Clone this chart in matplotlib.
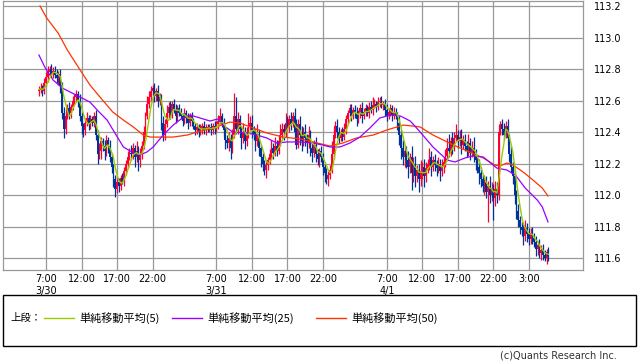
import numpy as np
import pandas as pd
import matplotlib
matplotlib.use('Agg')
import matplotlib.pyplot as plt
from matplotlib.lines import Line2D
from matplotlib.patches import Rectangle

# 15 minute USD/JPY candles, 3/30 6:00 -> 4/2 5:45 (JST), prices in pips above 111.00
# one row = 4 hours (16 bars)
closes = [
    [167, 168, 166, 171, 175, 178, 180, 177, 179, 176, 174, 177, 170, 152, 142, 150],
    [155, 152, 156, 160, 162, 164, 160, 150, 144, 141, 146, 149, 145, 148, 146, 150],
    [138, 126, 128, 134, 131, 128, 135, 131, 124, 118, 110, 104, 108, 106, 111, 109],
    [115, 120, 124, 127, 126, 130, 124, 128, 122, 126, 131, 140, 150, 158, 162, 166],
    [168, 163, 166, 160, 162, 146, 138, 145, 152, 156, 152, 158, 154, 150, 155, 152],
    [150, 147, 152, 149, 146, 150, 147, 144, 141, 143, 140, 142, 144, 141, 143, 142],
    [143, 141, 144, 142, 145, 147, 150, 146, 141, 135, 133, 136, 130, 138, 150, 142],
    [148, 142, 136, 140, 134, 138, 144, 146, 141, 138, 134, 139, 130, 124, 120, 116],
    [119, 122, 126, 130, 127, 131, 128, 134, 138, 142, 140, 146, 143, 148, 145, 150],
    [140, 132, 145, 138, 134, 140, 136, 133, 138, 130, 127, 132, 126, 123, 128, 124],
    [118, 114, 110, 113, 116, 126, 138, 144, 140, 136, 140, 137, 142, 148, 152, 155],
    [150, 154, 152, 148, 152, 155, 150, 153, 155, 152, 156, 154, 157, 158, 156, 159],
    [160, 157, 158, 154, 150, 153, 155, 151, 153, 150, 146, 138, 130, 124, 128, 122],
    [118, 124, 114, 120, 112, 116, 110, 115, 118, 112, 117, 120, 124, 118, 122, 119],
    [117, 120, 115, 118, 121, 125, 130, 128, 134, 131, 136, 138, 134, 137, 132, 135],
    [131, 128, 133, 127, 130, 125, 122, 118, 114, 110, 106, 108, 102, 106, 100, 104],
    [98, 104, 100, 140, 145, 142, 138, 144, 136, 126, 118, 112, 100, 90, 84, 80],
    [78, 74, 79, 75, 72, 76, 73, 70, 66, 68, 63, 65, 62, 60, 64, 61],
]
first_open = 166

# upper / lower shadow length in pips
wick_hi = [
    [2, 3, 2, 3, 3, 4, 2, 3, 2, 3, 4, 2, 3, 2, 4, 3],
    [3, 4, 2, 3, 2, 3, 2, 4, 3, 2, 3, 4, 2, 3, 2, 3],
    [4, 3, 5, 3, 2, 4, 3, 2, 4, 3, 2, 3, 4, 3, 2, 3],
    [3, 2, 4, 3, 5, 3, 2, 6, 3, 4, 3, 4, 3, 5, 4, 3],
    [2, 3, 2, 4, 3, 2, 4, 3, 5, 3, 4, 2, 3, 4, 2, 3],
    [3, 2, 3, 2, 3, 2, 3, 2, 2, 3, 2, 3, 2, 3, 2, 2],
    [2, 3, 2, 3, 2, 4, 5, 2, 3, 2, 3, 4, 3, 4, 15, 12],
    [5, 3, 2, 6, 3, 5, 8, 4, 5, 3, 4, 6, 3, 2, 3, 2],
    [3, 2, 3, 5, 3, 6, 4, 3, 7, 4, 3, 6, 4, 3, 5, 3],
    [5, 8, 3, 5, 6, 3, 5, 3, 6, 3, 4, 3, 5, 3, 2, 3],
    [3, 2, 3, 2, 3, 8, 5, 3, 4, 3, 2, 3, 4, 3, 2, 3],
    [3, 2, 3, 4, 2, 3, 4, 2, 3, 2, 3, 4, 5, 3, 2, 3],
    [2, 3, 2, 3, 4, 2, 3, 2, 3, 2, 3, 4, 3, 5, 4, 3],
    [6, 3, 7, 4, 5, 3, 4, 7, 3, 5, 4, 3, 6, 4, 3, 4],
    [3, 4, 3, 5, 3, 4, 6, 9, 3, 6, 4, 7, 3, 4, 5, 3],
    [4, 3, 6, 3, 4, 7, 4, 3, 5, 4, 3, 5, 4, 3, 6, 4],
    [3, 5, 4, 5, 2, 3, 4, 3, 4, 3, 5, 3, 4, 3, 4, 3],
    [3, 4, 5, 3, 4, 3, 4, 3, 4, 3, 4, 3, 4, 3, 2, 3],
]
wick_lo = [
    [3, 2, 3, 2, 2, 3, 2, 2, 3, 2, 3, 4, 5, 4, 6, 3],
    [2, 4, 3, 2, 3, 2, 4, 3, 5, 4, 3, 2, 4, 3, 2, 3],
    [3, 6, 3, 5, 3, 6, 3, 4, 3, 4, 5, 5, 3, 4, 3, 2],
    [3, 2, 3, 2, 4, 3, 6, 3, 7, 4, 3, 2, 3, 2, 3, 2],
    [3, 4, 3, 4, 3, 5, 4, 3, 2, 3, 4, 3, 2, 4, 3, 2],
    [2, 3, 2, 3, 4, 2, 3, 2, 3, 2, 3, 2, 3, 2, 3, 2],
    [2, 3, 2, 3, 2, 3, 2, 3, 4, 6, 3, 5, 7, 3, 2, 3],
    [3, 5, 7, 3, 5, 3, 2, 3, 5, 3, 6, 3, 5, 6, 5, 3],
    [5, 3, 2, 3, 4, 2, 3, 2, 3, 2, 5, 3, 2, 3, 4, 2],
    [5, 3, 2, 6, 6, 3, 5, 6, 3, 5, 6, 3, 5, 4, 5, 3],
    [5, 6, 3, 4, 3, 2, 3, 2, 4, 3, 2, 3, 2, 3, 2, 2],
    [3, 2, 3, 4, 2, 3, 4, 2, 3, 2, 3, 2, 3, 2, 3, 2],
    [3, 2, 3, 4, 3, 2, 3, 4, 3, 2, 5, 6, 7, 5, 6, 5],
    [7, 4, 11, 6, 7, 4, 8, 4, 5, 7, 4, 3, 4, 6, 3, 4],
    [5, 3, 6, 3, 4, 3, 2, 4, 3, 5, 3, 2, 4, 3, 6, 3],
    [3, 4, 3, 5, 3, 4, 6, 4, 7, 5, 4, 6, 4, 19, 5, 4],
    [14, 5, 5, 3, 2, 4, 3, 2, 4, 5, 4, 5, 6, 5, 4, 5],
    [4, 6, 3, 5, 4, 3, 4, 3, 5, 4, 3, 4, 3, 2, 4, 3],
]

# moving averages (hour since 3/30 0:00, price)
ma25_h = [6.0, 6.9, 8.0, 9.3, 10.4, 11.8, 13.2, 14.2, 15.6, 16.7, 17.9, 19.1, 20.2, 21.2,
          22.1, 23.5, 24.9, 26.2, 27.3, 28.7, 30.1, 31.2, 31.9, 33.3, 35.3, 36.7, 38.1,
          39.5, 40.9, 42.8, 44.6, 46.0, 47.0, 48.4, 49.8, 51.2, 52.6, 54.0, 55.5, 56.9,
          58.3, 59.7, 61.5, 63.5, 64.6, 66.0, 67.1, 68.6, 70.5, 71.9, 73.1, 74.5, 76.2,
          76.9, 77.7]
ma25_v = [112.889, 112.806, 112.730, 112.679, 112.654, 112.622, 112.590, 112.540, 112.476,
          112.394, 112.305, 112.273, 112.254, 112.273, 112.305, 112.381, 112.444, 112.489,
          112.508, 112.489, 112.470, 112.483, 112.444, 112.400, 112.394, 112.381, 112.362,
          112.330, 112.337, 112.337, 112.330, 112.317, 112.305, 112.305, 112.330, 112.368,
          112.425, 112.489, 112.508, 112.502, 112.470, 112.400, 112.305, 112.222, 112.210,
          112.235, 112.248, 112.241, 112.171, 112.159, 112.127, 112.044, 111.968, 111.924,
          111.829]
ma50_h = [6.15, 7.1, 8.7, 10.0, 11.8, 13.2, 14.6, 16.4, 17.9, 19.3, 20.7, 21.7, 24.9, 26.9,
          28.7, 30.5, 32.9, 34.3, 36.2, 38.1, 40.4, 42.8, 44.6, 47.0, 48.8, 50.7, 53.1,
          55.0, 57.3, 58.7, 59.7, 61.5, 63.5, 65.0, 66.7, 68.6, 70.2, 70.9, 71.9, 72.8,
          74.2, 75.6, 76.9, 77.7]
ma50_v = [113.200, 113.124, 113.029, 112.921, 112.794, 112.698, 112.622, 112.527, 112.476,
          112.432, 112.381, 112.368, 112.368, 112.381, 112.406, 112.425, 112.463, 112.457,
          112.425, 112.394, 112.368, 112.356, 112.337, 112.311, 112.330, 112.362, 112.381,
          112.413, 112.444, 112.438, 112.432, 112.381, 112.337, 112.305, 112.273, 112.235,
          112.190, 112.184, 112.203, 112.190, 112.146, 112.095, 112.044, 111.994]

tick_hours = [7, 12, 17, 22, 31, 36, 41, 46, 55, 60, 65, 70, 75]
tick_labels = ['7:00\n3/30', '12:00', '17:00', '22:00', '7:00\n3/31', '12:00', '17:00',
               '22:00', '7:00\n4/1', '12:00', '17:00', '22:00', '3:00']
y_ticks = [111.6, 111.8, 112.0, 112.2, 112.4, 112.6, 112.8, 113.0, 113.2]

# build OHLC frame
c = np.array(closes).ravel() / 100.0 + 111.0
o = np.concatenate([[first_open / 100.0 + 111.0], c[:-1]])
h = np.maximum(o, c) + np.array(wick_hi).ravel() / 100.0
l = np.minimum(o, c) - np.array(wick_lo).ravel() / 100.0
t = 6 + 0.25 * np.arange(len(c))
df = pd.DataFrame({'t': t, 'o': o, 'h': h, 'l': l, 'c': c})
df['ma5'] = df['c'].rolling(5, min_periods=1).mean()

plt.rcParams['font.family'] = ['DejaVu Sans']
fig = plt.figure(figsize=(6.38, 3.62), dpi=100)
ax = fig.add_axes([3 / 638, 1 - 270 / 362, 579.5 / 638, 269 / 362])

up = df['c'] >= df['o']
for mask, col in [(up, '#ff0033'), (~up, '#003399')]:
    d = df[mask]
    ax.vlines(d['t'], d['l'], d['h'], color=col, lw=0.9, zorder=3)
    ax.bar(d['t'], (d['c'] - d['o']).abs().clip(lower=0.004), bottom=d[['o', 'c']].min(axis=1),
           width=0.24, color=col, lw=0, zorder=3)

ax.plot(ma50_h, ma50_v, color='#ff3300', lw=0.9, zorder=4)
ax.plot(ma25_h, ma25_v, color='#9900ff', lw=0.9, zorder=4)
ax.plot(df['t'], df['ma5'], color='#99cc00', lw=1.0, zorder=5)

ax.set_xlim(0.94, 82.56)
ax.set_ylim(111.524, 113.232)
ax.set_xticks(tick_hours)
ax.set_xticklabels(tick_labels, fontsize=7)
ax.set_yticks(y_ticks)
ax.set_yticklabels(['%.1f' % v for v in y_ticks], fontsize=7)
ax.yaxis.tick_right()
ax.tick_params(axis='y', length=0, pad=8)
ax.tick_params(axis='x', length=0, pad=3)
ax.grid(True, color='#999999', lw=0.9)
ax.set_axisbelow(True)
for s in ax.spines.values():
    s.set_color('#999999')
    s.set_linewidth(0.9)

# legend box
fig.add_artist(Rectangle((3 / 638, 1 - 346 / 362), 633 / 638, 51 / 362, transform=fig.transFigure,
                         fill=False, edgecolor='black', lw=1))
ly = 1 - 318 / 362
jp = ['Noto Sans CJK JP', 'DejaVu Sans']
fig.text(10 / 638, ly, '上段：', family=jp, fontsize=7.5, va='center')
for x0, col, lab in [(44, '#99cc00', '単純移動平均(5)'), (172, '#9900ff', '単純移動平均(25)'),
                     (316, '#ff3300', '単純移動平均(50)')]:
    fig.add_artist(Line2D([x0 / 638, (x0 + 30) / 638], [ly, ly], transform=fig.transFigure,
                          color=col, lw=1))
    fig.text((x0 + 35) / 638, ly, lab, family=jp, fontsize=8, va='center')

fig.text(617 / 638, 1 - 356 / 362, '(c)Quants Research Inc.', fontsize=7, color='#333333',
         ha='right', va='center')

fig.savefig('out.png', dpi=100)
